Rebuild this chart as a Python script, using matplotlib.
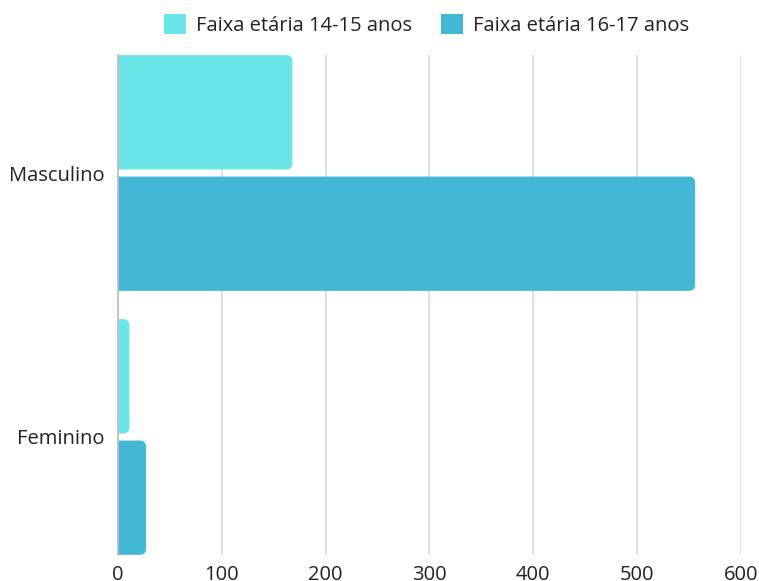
import matplotlib.pyplot as plt
from matplotlib.patches import FancyBboxPatch, Patch

plt.rcParams['font.family'] = ['Open Sans', 'DejaVu Sans']

categories = ["Masculino", "Feminino"]
series_names = ["Faixa etária 14-15 anos", "Faixa etária 16-17 anos"]
values_1415 = [168, 11]
values_1617 = [556, 27]
colors = ["#6AE5E8", "#42B7D6"]
x_ticks = [0, 100, 200, 300, 400, 500, 600]

fig = plt.figure(figsize=(7.59, 5.81), dpi=100)
ax = fig.add_axes([0.1555, 0.0448, 0.8205, 0.8605])

bar_h = 0.433
gap = 0.027
offsets = [-(bar_h + gap) / 2, (bar_h + gap) / 2]
ypos = list(range(len(categories)))

ax.set_xlim(0, 600)
ax.set_ylim(1.447, -0.447)

# x units per pixel vs y units per pixel, so the rounding stays circular
fig.canvas.draw()
bb = ax.get_window_extent()
aspect = (1.894 / bb.height) / (600 / bb.width)

for vals, off, col in zip([values_1415, values_1617], offsets, colors):
    bars = ax.barh([y + off for y in ypos], vals, height=bar_h, color=col)
    for b in bars:
        x0, y0 = b.get_x(), b.get_y()
        w, h = b.get_width(), b.get_height()
        b.remove()
        ax.add_patch(FancyBboxPatch((x0 - 20, y0), w + 20, h,
                                    boxstyle="round,pad=0,rounding_size=6",
                                    mutation_aspect=aspect,
                                    facecolor=col, edgecolor="none", zorder=2))

ax.set_yticks(ypos)
ax.set_yticklabels(categories, fontsize=14.5, color="#222222")
ax.set_xticks(x_ticks)
ax.set_xticklabels([str(t) for t in x_ticks], fontsize=14.5, color="#222222")
ax.tick_params(axis="x", length=0, pad=7)
ax.tick_params(axis="y", length=0, pad=10)

ax.grid(axis="x", color="#e0e0e0", linewidth=1.4, zorder=0)
ax.set_axisbelow(True)
for s in ["top", "right", "bottom"]:
    ax.spines[s].set_visible(False)
ax.spines["left"].set_color("#bbbbbb")
ax.spines["left"].set_linewidth(1.2)
ax.spines["left"].set_zorder(3)

handles = [Patch(facecolor=c, edgecolor="none") for c in colors]
fig.legend(handles, series_names, loc="center", bbox_to_anchor=(0.562, 0.957),
           ncol=2, frameon=False, fontsize=14.5, handlelength=1.1, handleheight=1.1,
           columnspacing=1.4, handletextpad=0.5, labelcolor="#222222")

fig.savefig("out.png", dpi=100)
